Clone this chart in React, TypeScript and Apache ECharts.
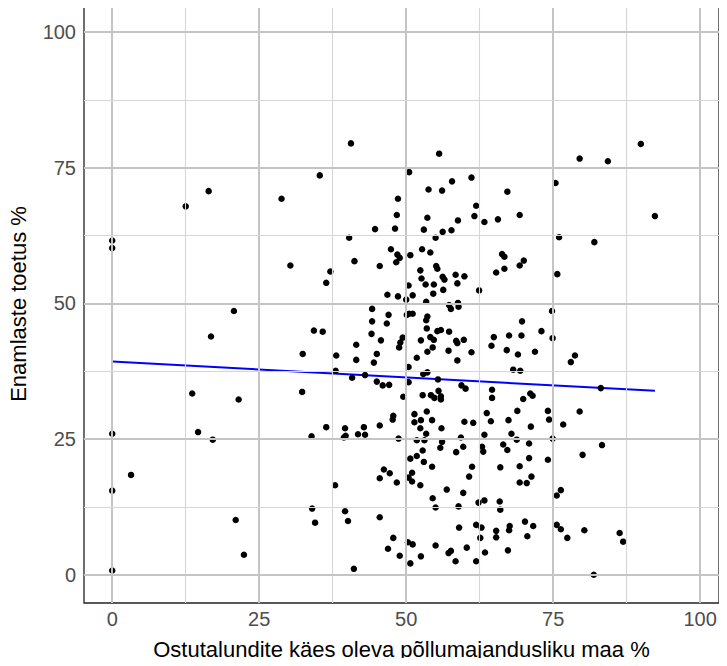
import React, { useEffect, useRef } from "react";
import * as echarts from "echarts";

// [share of land held by buyer farms %, support of the majority %]
const points: [number, number][] = [
  [0, 61.6], [0, 60.2], [0, 26.0], [0, 15.5], [0, 0.8], [3.2, 18.4], [12.5, 67.9], [13.6, 33.4], [14.6, 26.3],
  [16.4, 70.7], [16.8, 43.9], [17.1, 24.9], [20.7, 48.6], [21.0, 10.1], [21.5, 32.3], [22.4, 3.7], [28.8, 69.3], [30.3, 57.0],
  [40.6, 79.5], [55.6, 77.6], [35.3, 73.6], [50.5, 74.2], [57.8, 72.5], [61.1, 73.2], [53.8, 71.0], [56.1, 70.8], [48.6, 69.3],
  [61.9, 68.0], [48.4, 66.3], [53.6, 65.8], [61.6, 66.1], [58.8, 65.3], [63.3, 65.0], [65.6, 65.5], [44.7, 63.7], [48.1, 63.8],
  [53.0, 63.6], [56.2, 63.2], [57.7, 63.5], [55.0, 62.1], [40.3, 62.1], [47.4, 60.0], [52.7, 60.0],
  [89.9, 79.4], [79.5, 76.7], [84.3, 76.2], [75.4, 72.2], [67.2, 70.6], [69.3, 66.3], [92.3, 66.1], [76.0, 62.2], [82.0, 61.3],
  [48.5, 59.0], [48.9, 58.4], [48.3, 57.6], [50.7, 58.9], [54.1, 59.4], [41.2, 57.8], [37.1, 55.9], [36.4, 53.8], [45.5, 56.9],
  [52.4, 56.1], [55.1, 56.9], [55.3, 56.4], [56.2, 54.9], [56.5, 54.4], [58.4, 55.3], [59.9, 55.0], [52.6, 54.6], [53.3, 53.5],
  [54.7, 53.5], [58.7, 53.7], [50.4, 53.3], [56.3, 52.5], [62.4, 52.4], [65.3, 55.7], [46.8, 51.6], [48.6, 51.3],
  [51.1, 51.5], [54.6, 51.8], [50.0, 50.7], [53.4, 50.3], [57.3, 49.7], [57.6, 49.0], [58.8, 50.1], [58.9, 49.4], [44.2, 49.0],
  [47.0, 47.9], [50.1, 47.9], [50.5, 48.1], [51.1, 48.1], [53.6, 47.6], [53.4, 46.9], [44.2, 46.7], [46.7, 46.3], [34.3, 45.0],
  [35.8, 44.8], [53.5, 45.4], [55.3, 44.9], [55.9, 45.1], [57.3, 44.8], [44.1, 44.4], [45.7, 43.2], [49.4, 43.7], [49.0, 42.8],
  [48.8, 41.9], [52.5, 43.2], [54.1, 43.8], [54.7, 43.3], [58.5, 43.1], [58.7, 42.7], [59.8, 43.3], [64.9, 43.8], [64.5, 42.2],
  [41.5, 42.4], [45.0, 40.7], [54.5, 41.9], [53.6, 41.1], [57.2, 41.3], [61.1, 41.0], [32.4, 40.7], [38.1, 40.4], [41.5, 39.6],
  [44.5, 39.1], [51.8, 40.0], [58.7, 39.5], [50.4, 38.3],
  [66.3, 59.1], [66.7, 58.6], [70.0, 57.9], [69.3, 57.0], [66.7, 56.4], [75.7, 55.4], [74.8, 48.6], [69.7, 46.7], [73.0, 44.9],
  [67.5, 44.1], [69.6, 44.1], [74.9, 43.6], [67.1, 41.4], [69.0, 40.6], [71.9, 41.1], [78.7, 40.4], [78.0, 39.2], [68.2, 37.8],
  [69.4, 37.6],
  [38.0, 37.6], [40.8, 36.3], [43.0, 36.8], [45.0, 35.6], [46.0, 34.9], [47.1, 35.0], [32.3, 33.7], [50.4, 35.5], [52.9, 37.0],
  [53.6, 37.3], [55.4, 36.0], [59.4, 34.9], [60.1, 34.3], [64.6, 34.1], [64.6, 32.6], [49.5, 32.8], [52.8, 33.1], [54.2, 33.1],
  [54.8, 32.6], [55.5, 33.9], [55.9, 32.9], [55.9, 32.3], [47.8, 29.3], [47.7, 28.6], [51.4, 29.6], [53.5, 30.1], [51.4, 28.1],
  [52.5, 28.5], [54.4, 28.5], [63.7, 29.8], [59.9, 28.2], [61.4, 28.0], [64.4, 28.3], [36.4, 27.2], [39.6, 27.0], [42.8, 27.2],
  [45.5, 27.5], [52.4, 27.0], [56.0, 27.0], [33.9, 25.5], [39.4, 25.3], [39.7, 25.6], [41.8, 25.9], [43.0, 25.8], [48.7, 25.1],
  [53.4, 26.0], [51.8, 24.8], [53.1, 24.8], [56.1, 24.5], [55.8, 23.4], [59.3, 25.3], [59.7, 23.6], [58.5, 22.6], [63.3, 25.8],
  [62.9, 23.6], [63.1, 22.7], [52.8, 22.9], [51.8, 21.9], [50.7, 21.4], [53.0, 20.8], [54.4, 19.9], [61.2, 19.9],
  [46.2, 19.4], [47.2, 18.7], [45.5, 17.8], [51.0, 18.8], [60.7, 18.1], [50.4, 17.9],
  [83.1, 34.4], [71.1, 33.4], [71.5, 33.0], [69.9, 32.4], [68.9, 30.2], [74.1, 30.2], [79.5, 30.1], [67.4, 28.5], [74.3, 28.6],
  [71.2, 27.3], [76.7, 27.7], [67.9, 26.0], [68.8, 24.9], [74.9, 25.1], [66.5, 24.0], [67.2, 23.0], [70.9, 24.2], [83.3, 23.9],
  [80.0, 22.1], [70.9, 21.5], [74.1, 21.2], [66.0, 19.8], [69.3, 20.0], [71.3, 18.1],
  [37.9, 16.5], [48.4, 17.0], [51.0, 17.2], [52.4, 16.5], [56.9, 15.7], [59.7, 15.1], [54.5, 14.1], [55.0, 12.4], [58.9, 12.6],
  [62.3, 13.3], [63.3, 13.7], [65.9, 13.5], [34.0, 12.2], [39.6, 11.7], [34.5, 9.6], [40.1, 9.9], [45.5, 10.6], [59.0, 8.7],
  [61.9, 9.2], [62.8, 8.7], [65.3, 8.1], [65.3, 6.9], [62.6, 6.8], [47.8, 6.8], [50.3, 6.0], [51.1, 5.6], [55.0, 5.4],
  [46.9, 4.8], [48.9, 3.5], [52.5, 3.4], [57.2, 4.0], [57.6, 4.4], [60.3, 5.0], [63.4, 4.1], [58.4, 2.5], [61.9, 2.5],
  [50.7, 2.1], [41.1, 1.1],
  [69.3, 17.0], [70.5, 16.9], [76.3, 15.6], [75.6, 14.6], [66.0, 12.0], [70.2, 9.8], [67.6, 9.0], [67.5, 8.2], [71.6, 9.0],
  [70.6, 7.1], [67.3, 4.5], [75.6, 9.2], [76.3, 8.4], [77.4, 6.8], [80.3, 8.2], [86.3, 7.7], [86.9, 6.1], [81.9, 0],
];

// linear fit endpoints
const trend: [number, number][] = [[0, 39.3], [92.3, 33.9]];

const majorTicks = [0, 25, 50, 75, 100];
const minorTicks = [12.5, 37.5, 62.5, 87.5];

const xTitle = "Ostutalundite käes oleva põllumajandusliku maa %";
const yTitle = "Enamlaste toetus %";

const FONT = "Liberation Sans, Arial, sans-serif";

export default function App() {
  const ref = useRef<HTMLDivElement>(null);
  useEffect(() => {
    if (!ref.current) return;
    const chart = echarts.init(ref.current, null, { renderer: "svg" });
    const gridLines = (axis: "xAxis" | "yAxis") => [
      ...minorTicks.map((v) => ({ [axis]: v, lineStyle: { color: "#d6d6d6", width: 1.1, type: "solid" } })),
      ...majorTicks.map((v) => ({ [axis]: v, lineStyle: { color: "#c4c4c4", width: 2, type: "solid" } })),
    ];
    const axisCommon = {
      type: "value" as const,
      axisLine: { show: false },
      axisTick: { show: true, length: 4, lineStyle: { color: "#333", width: 1 }, customValues: majorTicks },
      axisLabel: { color: "#4d4d4d", fontSize: 20, fontFamily: FONT, customValues: majorTicks },
      splitLine: { show: false },
      nameLocation: "middle" as const,
      nameTextStyle: { color: "#000", fontSize: 22, fontFamily: FONT },
    };
    chart.setOption({
      animation: false,
      backgroundColor: "#fff",
      grid: {
        left: 84, right: 8, top: 5, bottom: 63,
        outerBoundsMode: "none", containLabel: false,
        show: true, borderColor: "#222", borderWidth: 1.3, backgroundColor: "#fff",
      },
      xAxis: {
        ...axisCommon,
        min: -4.8,
        max: 103.2,
        name: xTitle,
        nameGap: 35,
        axisLabel: { ...axisCommon.axisLabel, margin: 6 },
      },
      yAxis: {
        ...axisCommon,
        min: -5.2,
        max: 105,
        name: yTitle,
        nameGap: 55,
        axisLabel: { ...axisCommon.axisLabel, margin: 8 },
      },
      series: [
        {
          type: "line",
          data: [],
          z: 1,
          silent: true,
          markLine: {
            silent: true,
            symbol: "none",
            label: { show: false },
            emphasis: { disabled: true },
            data: [...gridLines("xAxis"), ...gridLines("yAxis")],
          },
        },
        {
          type: "line",
          data: trend,
          z: 3,
          symbol: "none",
          lineStyle: { color: "#0000ff", width: 2 },
          silent: true,
        },
        {
          type: "scatter",
          data: points,
          z: 4,
          symbolSize: 6.5,
          itemStyle: { color: "#000", opacity: 1 },
          silent: true,
        },
      ],
    });
    return () => chart.dispose();
  }, []);
  return <div ref={ref} style={{ width: 727, height: 666, margin: -8 }} />;
}
